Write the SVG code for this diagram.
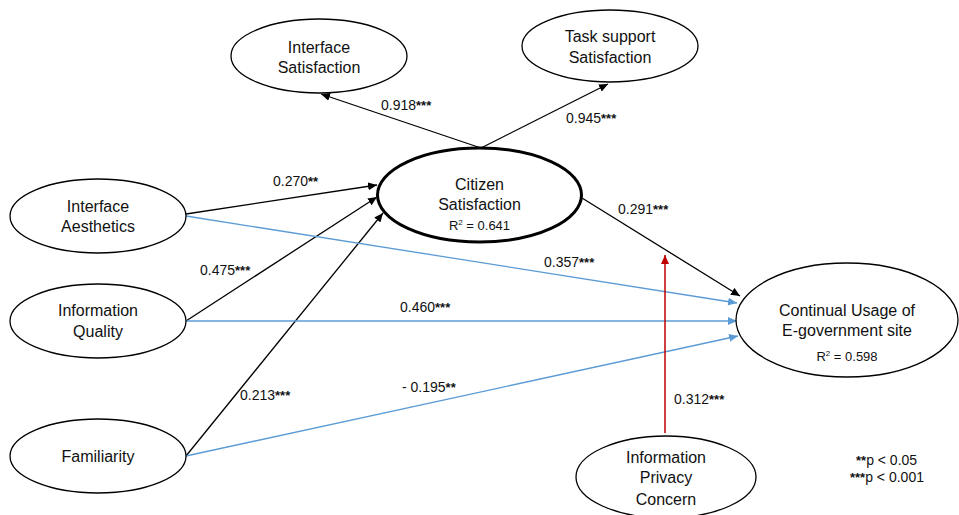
<svg xmlns="http://www.w3.org/2000/svg" width="959" height="515" viewBox="0 0 959 515">
<style>
.node ellipse{fill:#fff;stroke:#000;stroke-width:1.3}
.node.thick ellipse{stroke-width:3}
text{font-family:"Liberation Sans",Arial,sans-serif;fill:#111}
.nt{font-size:16px;text-anchor:middle}
.r2{font-size:13px;text-anchor:middle}
.lb{font-size:14px}
.st{font-size:13px;font-weight:bold}
.blk{stroke:#000;stroke-width:1.3;fill:none;marker-end:url(#ab)}
.blu{stroke:#5B9BD5;stroke-width:1.3;fill:none;marker-end:url(#au)}
.red{stroke:#C00000;stroke-width:1.5;fill:none;marker-end:url(#ar)}
</style>
<defs>
<marker id="ab" markerUnits="userSpaceOnUse" markerWidth="10" markerHeight="8" refX="9" refY="4" orient="auto"><path d="M0,0 L9,4 L0,8 Z" fill="#000"/></marker>
<marker id="au" markerUnits="userSpaceOnUse" markerWidth="10" markerHeight="8" refX="9" refY="4" orient="auto"><path d="M0,0 L9,4 L0,8 Z" fill="#5B9BD5"/></marker>
<marker id="ar" markerUnits="userSpaceOnUse" markerWidth="10" markerHeight="8" refX="9" refY="4" orient="auto"><path d="M0,0 L9,4 L0,8 Z" fill="#C00000"/></marker>
</defs>
<rect width="959" height="515" fill="#fff"/>
<g id="connectors">
<path class="blk" d="M481,148 L321,94"/>
<path class="blk" d="M481,148 L608,84"/>
<path class="blk" d="M186,214 L377,185"/>
<path class="blk" d="M186,321 L377,197"/>
<path class="blk" d="M186,456 L383,213"/>
<path class="blu" d="M186,216 L737,303"/>
<path class="blu" d="M186,321 L737,321"/>
<path class="blu" d="M186,456 L738,336"/>
<path class="blk" d="M582,198 L740,296"/>
<path class="red" d="M665,433 L665,255"/>
</g>
<g id="labels">
<text class="lb" x="381" y="110">0.918<tspan class="st">***</tspan></text>
<text class="lb" x="566" y="123">0.945<tspan class="st">***</tspan></text>
<text class="lb" x="273" y="186">0.270<tspan class="st">**</tspan></text>
<text class="lb" x="200" y="275">0.475<tspan class="st">***</tspan></text>
<text class="lb" x="240" y="400">0.213<tspan class="st">***</tspan></text>
<text class="lb" x="400" y="312">0.460<tspan class="st">***</tspan></text>
<text class="lb" x="402" y="392">- 0.195<tspan class="st">**</tspan></text>
<text class="lb" x="544" y="267">0.357<tspan class="st">***</tspan></text>
<text class="lb" x="618" y="214">0.291<tspan class="st">***</tspan></text>
<text class="lb" x="674" y="404">0.312<tspan class="st">***</tspan></text>
<text class="lb" x="856" y="465"><tspan class="st">**</tspan>p &lt; 0.05</text>
<text class="lb" x="850" y="482"><tspan class="st">***</tspan>p &lt; 0.001</text>
</g>
<g id="interface-satisfaction" class="node"><ellipse cx="319" cy="56" rx="88" ry="37"/><text class="nt" x="319" y="53">Interface</text><text class="nt" x="319" y="73">Satisfaction</text></g>
<g id="task-support-satisfaction" class="node"><ellipse cx="610" cy="46" rx="88" ry="36"/><text class="nt" x="610" y="42">Task support</text><text class="nt" x="610" y="63">Satisfaction</text></g>
<g id="citizen-satisfaction" class="node thick"><ellipse cx="479.5" cy="195" rx="102" ry="47"/><text class="nt" x="479.5" y="190">Citizen</text><text class="nt" x="479.5" y="210">Satisfaction</text><text class="r2" x="479.5" y="230">R<tspan font-size="8" dy="-5">2</tspan><tspan dy="5"> = 0.641</tspan></text></g>
<g id="interface-aesthetics" class="node"><ellipse cx="98" cy="216" rx="88" ry="37"/><text class="nt" x="98" y="212">Interface</text><text class="nt" x="98" y="232">Aesthetics</text></g>
<g id="information-quality" class="node"><ellipse cx="98" cy="321" rx="88" ry="37"/><text class="nt" x="98" y="316">Information</text><text class="nt" x="98" y="337">Quality</text></g>
<g id="familiarity" class="node"><ellipse cx="98" cy="456" rx="88" ry="37"/><text class="nt" x="98" y="462">Familiarity</text></g>
<g id="continual-usage" class="node"><ellipse cx="847" cy="320" rx="111" ry="57"/><text class="nt" x="847" y="316">Continual Usage of</text><text class="nt" x="847" y="336">E-government site</text><text class="r2" x="847" y="361">R<tspan font-size="8" dy="-5">2</tspan><tspan dy="5"> = 0.598</tspan></text></g>
<g id="information-privacy-concern" class="node"><ellipse cx="666" cy="477" rx="90" ry="41"/><text class="nt" x="666" y="463">Information</text><text class="nt" x="666" y="483">Privacy</text><text class="nt" x="666" y="505">Concern</text></g>
</svg>
